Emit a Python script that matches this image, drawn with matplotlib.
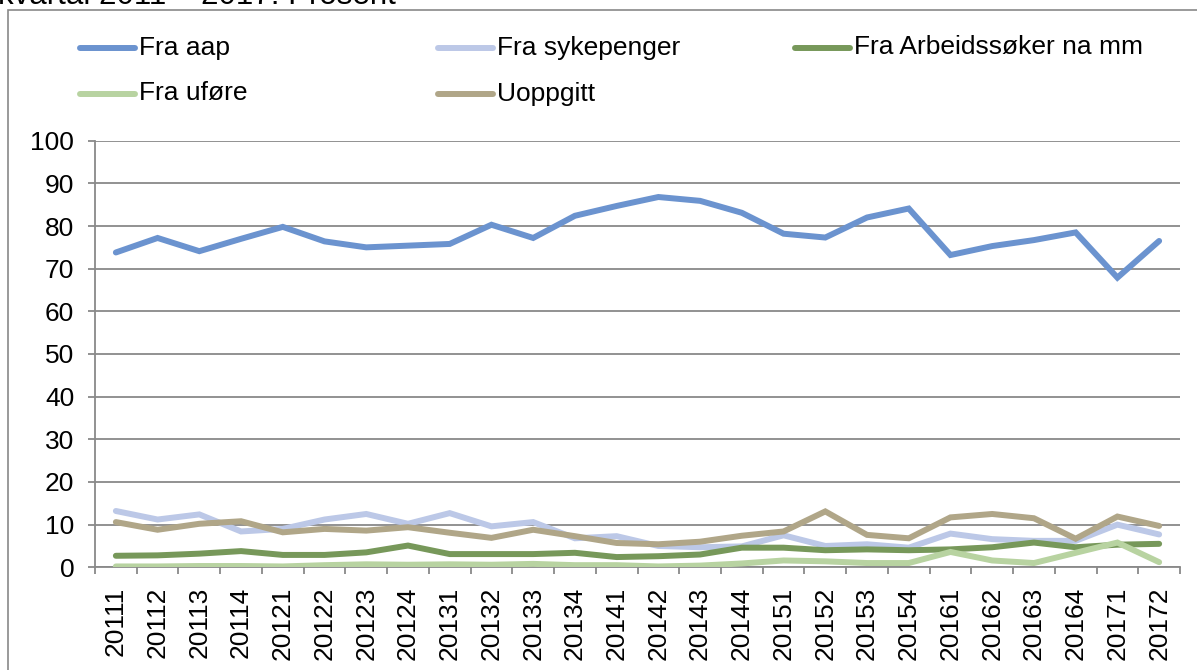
import matplotlib
matplotlib.use("Agg")
import matplotlib.pyplot as plt
from matplotlib.lines import Line2D
from matplotlib.patches import Rectangle

plt.rcParams['font.family'] = ['Liberation Sans', 'DejaVu Sans']

categories = ["20111", "20112", "20113", "20114", "20121", "20122", "20123", "20124",
              "20131", "20132", "20133", "20134", "20141", "20142", "20143", "20144",
              "20151", "20152", "20153", "20154", "20161", "20162", "20163", "20164",
              "20171", "20172"]

fra_aap = [73.8, 77.2, 74.1, 77.0, 79.8, 76.4, 75.0, 75.4, 75.8, 80.3, 77.2, 82.4, 84.7,
           86.8, 85.9, 83.1, 78.2, 77.3, 82.0, 84.1, 73.2, 75.3, 76.7, 78.5, 67.9, 76.5]
fra_sykepenger = [13.2, 11.2, 12.4, 8.4, 9.0, 11.2, 12.5, 10.2, 12.7, 9.6, 10.6, 6.8, 7.3,
                  5.0, 4.7, 4.9, 7.5, 5.0, 5.4, 4.6, 7.9, 6.6, 6.2, 6.2, 10.0, 7.7]
fra_arbeidssoker = [2.7, 2.8, 3.2, 3.8, 2.9, 2.9, 3.5, 5.1, 3.1, 3.1, 3.1, 3.4, 2.4,
                    2.6, 3.0, 4.6, 4.6, 4.0, 4.2, 4.0, 4.2, 4.7, 5.8, 4.7, 5.3, 5.5]
fra_ufore = [0.2, 0.2, 0.3, 0.3, 0.2, 0.5, 0.7, 0.6, 0.7, 0.6, 0.8, 0.5, 0.5,
             0.2, 0.4, 0.9, 1.6, 1.4, 1.0, 1.0, 3.6, 1.6, 1.0, 3.4, 5.8, 1.2]
uoppgitt = [10.6, 8.8, 10.2, 10.8, 8.2, 9.0, 8.6, 9.4, 8.1, 6.9, 8.8, 7.3, 5.7,
            5.4, 6.0, 7.4, 8.4, 13.1, 7.6, 6.8, 11.7, 12.5, 11.5, 6.7, 11.9, 9.7]

series = [
    ("Fra aap", fra_aap, "#6B93CF"),
    ("Fra sykepenger", fra_sykepenger, "#BCC8E7"),
    ("Fra Arbeidssøker na mm", fra_arbeidssoker, "#77985A"),
    ("Fra uføre", fra_ufore, "#B8D3A1"),
    ("Uoppgitt", uoppgitt, "#B0A688"),
]
yticks = list(range(0, 101, 10))

W, H = 1197, 670
FS = 19
LW = 4.3
fig = plt.figure(figsize=(W / 100, H / 100), dpi=100)

# outer frame
fig.add_artist(Rectangle((8 / W, -0.05), 1.2, 1 - 10 / H + 0.05, transform=fig.transFigure,
                         fill=False, edgecolor="#898989", linewidth=1.2))

# clipped title text at top
fig.text(-2 / W, 1 - 4 / H, "kvartal 2011 – 2017. Prosent", fontsize=22.5,
         va="baseline", ha="left", color="black")

ax = fig.add_axes([95 / W, 1 - 567.3 / H, (1180 - 95) / W, (567.3 - 140.7) / H])
x = list(range(len(categories)))
for name, vals, col in series:
    ax.plot(x, vals, color=col, linewidth=LW, solid_capstyle="round",
            solid_joinstyle="miter", zorder=3)

ax.set_xlim(-0.5, len(categories) - 0.5)
ax.set_ylim(0, 100)
ax.set_yticks(yticks)
ax.set_yticklabels([str(t) for t in yticks], fontsize=FS)
ax.set_xticks([i + 0.5 for i in range(-1, len(categories))], minor=False)
ax.set_xticklabels([])
ax.set_xticks(x, minor=True)
ax.set_xticklabels(categories, minor=True, rotation=90, fontsize=FS)
ax.tick_params(axis="x", which="minor", length=0, pad=14)
ax.tick_params(axis="x", which="major", length=5, width=1.3, color="#898989", direction="out")
ax.tick_params(axis="y", length=5, width=1.3, color="#898989", pad=10)
ax.grid(axis="y", color="#898989", linewidth=1.3, zorder=1)
for s in ["top", "right"]:
    ax.spines[s].set_visible(False)
for s in ["left", "bottom"]:
    ax.spines[s].set_color("#898989")
    ax.spines[s].set_linewidth(1.3)

# legend drawn manually in figure coordinates
leg_pos = [(80, 47.5), (438, 47.5), (795, 47.5), (80, 93.5), (438, 93.5)]
for (name, vals, col), (lx, ly) in zip(series, leg_pos):
    fig.add_artist(Line2D([lx / W, (lx + 55) / W], [1 - ly / H, 1 - ly / H],
                          transform=fig.transFigure, color=col, linewidth=LW,
                          solid_capstyle="round"))
    fig.text((lx + 59) / W, 1 - ly / H, name, fontsize=FS, va="center", ha="left")

fig.savefig("out.png", dpi=100)
